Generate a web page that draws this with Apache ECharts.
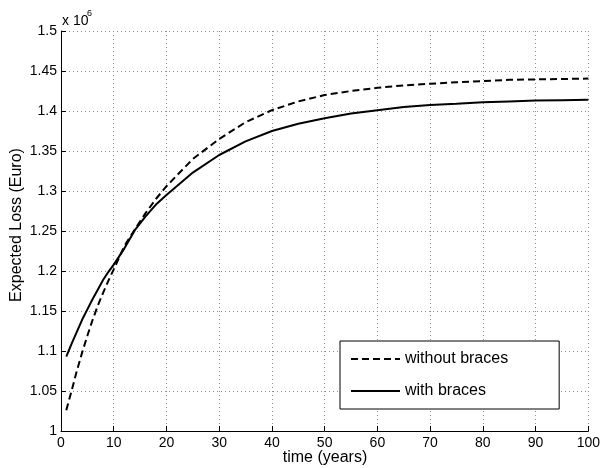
<!DOCTYPE html>
<html>
<head>
<meta charset="utf-8">
<style>
  html, body { margin: 0; padding: 0; background: #fff; }
  #chart { width: 603px; height: 468px; }
</style>
<script src="https://cdn.jsdelivr.net/npm/echarts@6/dist/echarts.min.js"></script>
</head>
<body>
<div id="chart"></div>
<script>
// Time in years
const years = [1, 2, 3, 4, 5, 6, 7, 8, 9, 10, 12, 14, 16, 18, 20, 25, 30, 35, 40, 45, 50, 55, 60, 65, 70, 75, 80, 85, 90, 95, 100];

// Expected loss in millions of euro
const lossWithoutBraces = [1.026, 1.050, 1.075, 1.098, 1.119, 1.139, 1.157, 1.173, 1.188, 1.202, 1.231, 1.252, 1.272, 1.290, 1.306, 1.340, 1.365, 1.386, 1.401, 1.412, 1.420, 1.425, 1.429, 1.432, 1.434, 1.436, 1.4375, 1.439, 1.4395, 1.440, 1.4405];
const lossWithBraces = [1.093, 1.109, 1.124, 1.139, 1.152, 1.165, 1.177, 1.189, 1.199, 1.208, 1.228, 1.251, 1.268, 1.283, 1.295, 1.323, 1.345, 1.362, 1.375, 1.384, 1.391, 1.397, 1.401, 1.405, 1.4075, 1.409, 1.411, 1.412, 1.413, 1.4135, 1.414];

const seriesNames = ['without braces', 'with braces'];
const yTickLabels = ['1', '1.05', '1.1', '1.15', '1.2', '1.25', '1.3', '1.35', '1.4', '1.45', '1.5'];
const xTickLabels = ['0', '10', '20', '30', '40', '50', '60', '70', '80', '90', '100'];

const FONT = "'Liberation Sans', Arial, Helvetica, sans-serif";

const pairs = (xs, ys) => xs.map((x, i) => [x, ys[i]]);

const chart = echarts.init(document.getElementById('chart'), null, { renderer: 'canvas' });

const gridLine = { show: true, lineStyle: { color: '#8c8c8c', width: 1, type: [1, 3] } };

chart.setOption({
  animation: false,
  backgroundColor: '#fff',
  grid: { left: 61, right: 14, top: 31, bottom: 37 },
  xAxis: {
    type: 'value',
    min: 0, max: 100, interval: 10,
    axisLine: { show: true, onZero: false, lineStyle: { color: '#000', width: 1 } },
    axisTick: { show: true, inside: true, length: 5, lineStyle: { color: '#000' } },
    axisLabel: {
      color: '#000', fontSize: 14, fontFamily: FONT, margin: 5,
      formatter: v => xTickLabels[Math.round(v / 10)]
    },
    splitLine: gridLine
  },
  yAxis: {
    type: 'value',
    min: 1, max: 1.5, interval: 0.05,
    axisLine: { show: true, onZero: false, lineStyle: { color: '#000', width: 1 } },
    axisTick: { show: true, inside: true, length: 5, lineStyle: { color: '#000' } },
    axisLabel: {
      color: '#000', fontSize: 14, fontFamily: FONT, margin: 4,
      formatter: v => yTickLabels[Math.round((v - 1) / 0.05)]
    },
    splitLine: gridLine
  },
  legend: {
    data: seriesNames,
    orient: 'vertical',
    left: 340, top: 341,
    padding: [10, 51, 10, 10],
    itemWidth: 49, itemHeight: 16, itemGap: 16,
    borderColor: '#000', borderWidth: 1,
    backgroundColor: '#fff',
    selectedMode: false,
    // line-only keys: hide the marker symbol
    itemStyle: { color: 'rgba(0,0,0,0)', borderWidth: 0, opacity: 0 },
    textStyle: { color: '#000', fontSize: 16, fontFamily: FONT }
  },
  series: [
    {
      name: seriesNames[0],
      type: 'line',
      data: pairs(years, lossWithoutBraces),
      symbol: 'none',
      lineStyle: { color: '#000', width: 2, type: [7, 4] },
      itemStyle: { color: '#000' }
    },
    {
      name: seriesNames[1],
      type: 'line',
      data: pairs(years, lossWithBraces),
      symbol: 'none',
      lineStyle: { color: '#000', width: 2, type: 'solid' },
      itemStyle: { color: '#000' }
    }
  ],
  graphic: [
    {
      type: 'text', x: 62, y: 21,
      style: { text: 'x 10', fontSize: 14, fontFamily: FONT, fill: '#000', align: 'left', verticalAlign: 'middle' }
    },
    {
      type: 'text', x: 87, y: 14,
      style: { text: '6', fontSize: 9, fontFamily: FONT, fill: '#000', align: 'left', verticalAlign: 'middle' }
    },
    {
      type: 'text', x: 17, y: 225, rotation: Math.PI / 2,
      style: { text: 'Expected Loss (Euro)', fontSize: 16, fontFamily: FONT, fill: '#000', align: 'center', verticalAlign: 'middle' }
    },
    {
      type: 'text', x: 325, y: 458,
      style: { text: 'time (years)', fontSize: 16, fontFamily: FONT, fill: '#000', align: 'center', verticalAlign: 'middle' }
    }
  ]
});
</script>
</body>
</html>
